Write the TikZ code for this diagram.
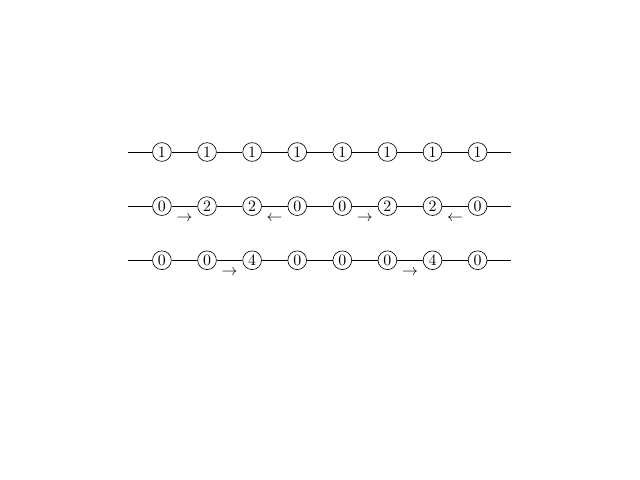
\documentclass[tikz,border=0pt]{standalone}
\usepackage{amsmath}
\usepackage{tikz}
\usetikzlibrary{positioning}

\begin{document}
\begin{tikzpicture}[site/.style={circle,draw,inner sep=1.3pt},
  move/.style={below=5pt,inner sep=1pt}]
\useasboundingbox (-3.59,-7.27) rectangle (10.60,3.37);
% rows of sites
\foreach \v [count=\i from 0] in {1,1,1,1,1,1,1,1}
  \node[site] (a\i) at (\i,0) {$\v$};
\foreach \v [count=\i from 0] in {0,2,2,0,0,2,2,0}
  \node[site] (b\i) at (\i,-1.2) {$\v$};
\foreach \v [count=\i from 0] in {0,0,4,0,0,0,4,0}
  \node[site] (c\i) at (\i,-2.4) {$\v$};
\foreach \r/\y in {a/0,b/-1.2,c/-2.4} {
  \coordinate (\r l) at (-0.75,\y);
  \coordinate (\r r) at (7.75,\y);
}
% bonds
\draw (al) -- (a0) -- (a1) -- (a2) -- (a3) -- (a4) -- (a5) -- (a6) -- (a7) -- (ar);
\draw (bl) -- (b0) -- node[move]{$\rightarrow$} (b1) -- (b2) -- node[move]{$\leftarrow$} (b3)
  -- (b4) -- node[move]{$\rightarrow$} (b5) -- (b6) -- node[move]{$\leftarrow$} (b7) -- (br);
\draw (cl) -- (c0) -- (c1) -- node[move]{$\rightarrow$} (c2) -- (c3) -- (c4)
  -- (c5) -- node[move]{$\rightarrow$} (c6) -- (c7) -- (cr);
\end{tikzpicture}
\end{document}
